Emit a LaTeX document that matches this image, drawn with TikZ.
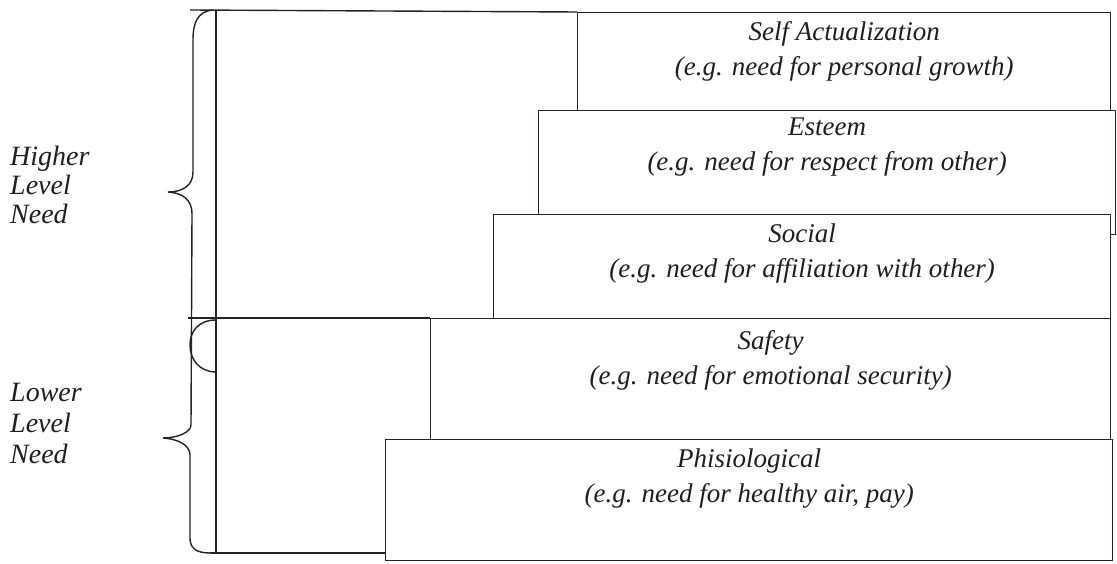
\documentclass[tikz,border=0pt]{standalone}
\usepackage{fontspec}
\setmainfont{Liberation Serif}
\definecolor{linec}{RGB}{45,32,32}
\definecolor{textc}{RGB}{35,30,30}
\begin{document}
\begin{tikzpicture}[x=1pt,y=-1pt,
  ln/.style={draw=linec, line width=1.4pt},
  box/.style={ln, fill=white, rectangle, inner sep=0pt, anchor=north west},
  lbl/.style={font=\fontsize{27}{35}\selectfont\itshape, text=textc, align=center, inner sep=0pt, anchor=north},
  side/.style={font=\fontsize{28}{29}\selectfont\itshape, text=textc, align=left, inner sep=0pt, anchor=west}]
\useasboundingbox (0,0) rectangle (1117,564);
\fill[white] (0,0) rectangle (1117,564);
% helper coordinates
\coordinate (tl) at (190,10);
\coordinate (vt) at (216,10);
\coordinate (vb) at (216,553);
\coordinate (ml) at (188,318);
\coordinate (bl) at (210,553);
% boxes
\node[box, minimum width=577pt, minimum height=124pt] (es) at (538,110) {};
\node[box, minimum width=533pt, minimum height=98pt] (sa) at (577,12) {};
\node[box, minimum width=617pt, minimum height=104pt] (so) at (493,214) {};
\node[box, minimum width=680pt, minimum height=123pt] (sf) at (430,318) {};
\node[box, minimum width=727pt, minimum height=121pt] (ph) at (385,439) {};
% texts
\node[lbl] (tsa) at ([yshift=-9pt]sa.north) {Self Actualization\\(e.g. need for personal growth)};
\node[lbl] (tes) at ([yshift=-8pt]es.north) {Esteem\\(e.g. need for respect from other)};
\node[lbl] (tso) at ([yshift=-10pt]so.north) {Social\\(e.g. need for affiliation with other)};
\node[lbl] (tsf) at ([yshift=-12pt]sf.north) {Safety\\(e.g. need for emotional security)};
\node[lbl] (tph) at ([yshift=-10pt]ph.north) {Phisiological\\(e.g. need for healthy air, pay)};
% frame lines
\draw[ln] (tl) -- (sa.north west);
\draw[ln] (ml) -- (sf.north west);
\draw[ln] (bl) -- (bl -| ph.west);
\draw[ln] (vt) -- (vb);
% braces
\draw[ln] (212,10) .. controls (198,12) and (193,22) .. (193,40) -- (193,172)
  .. controls (193,186) and (182,192) .. (168,192)
  .. controls (182,193) and (192,199) .. (192,214) -- (191,425)
  .. controls (191,432) and (178,438) .. (163,438)
  .. controls (178,439) and (190,445) .. (190,455) -- (190,538)
  .. controls (190,548) and (196,553) .. (210,553);
\draw[ln] (216,320) .. controls (198,320) and (190,332) .. (190,345)
  .. controls (190,360) and (200,372) .. (216,372);
\draw[draw=linec, line width=2.6pt] (216,318) -- (216,372);
% side labels
\node[side] (hi) at (10,185) {Higher\\Level\\Need};
\node[side, font=\fontsize{28}{31}\selectfont\itshape] (lo) at (10,423) {Lower\\Level\\Need};
\end{tikzpicture}
\end{document}
